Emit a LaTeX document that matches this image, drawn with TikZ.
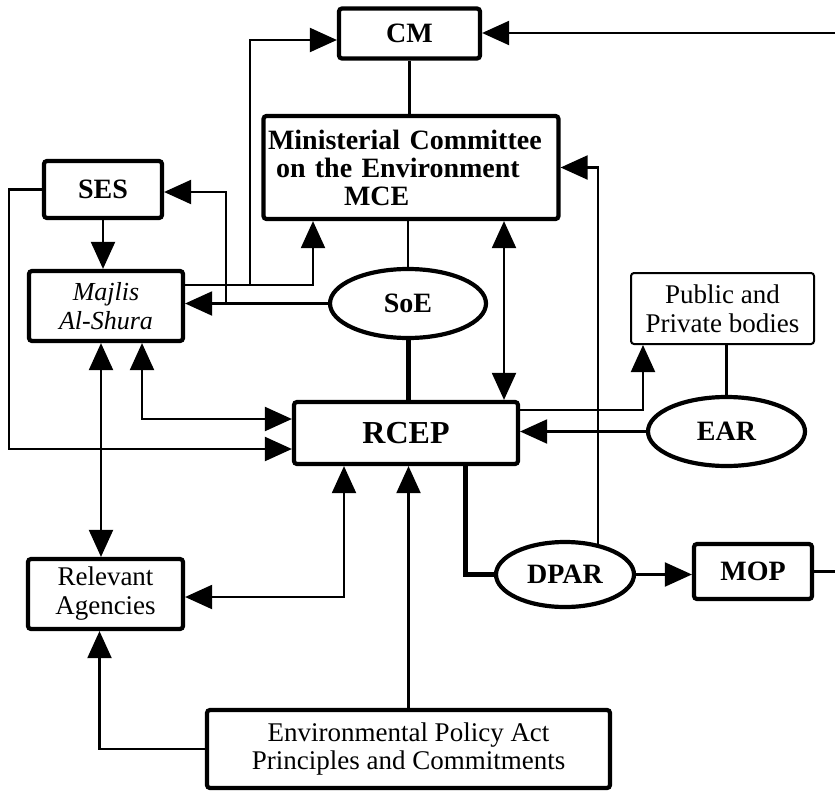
\documentclass[tikz,border=0pt]{standalone}
\usepackage{fontspec}
\setmainfont{Liberation Serif}
\usetikzlibrary{arrows.meta,calc,shapes.geometric}
\pgfdeclarelayer{bg}
\pgfsetlayers{bg,main}
\tikzset{
  boxnode/.style={draw, line width=4.2pt, rounded corners=3pt, fill=white, inner sep=2pt, align=center},
  thinbox/.style={draw, line width=2pt, rounded corners=3pt, fill=white, inner sep=2pt, align=center},
  bfont/.style={font=\fontsize{28}{30}\selectfont\bfseries},
  rfont/.style={font=\fontsize{27}{29}\selectfont},
  ellnode/.style={draw, ellipse, line width=4.2pt, fill=white, inner sep=0pt, font=\fontsize{28}{30}\selectfont\bfseries},
  conn/.style={line width=2.1pt},
  thickconn/.style={line width=5pt},
  midconn/.style={line width=2.6pt},
  arr/.style={conn, -{Triangle[length=27pt,width=24pt]}},
  dbl/.style={conn, {Triangle[length=27pt,width=24pt]}-{Triangle[length=27pt,width=24pt]}},
}
\begin{document}
\begin{tikzpicture}[x=1pt,y=-1pt]
\useasboundingbox (0,0) rectangle (835,800);

\node[boxnode,bfont,minimum width=141pt,minimum height=50pt] (CM) at (409.5,33.5) {CM};
\node[boxnode,minimum width=295pt,minimum height=103pt,text width=286pt,inner xsep=4.5pt,align=left,
      font=\fontsize{28}{28}\selectfont\bfseries] (MCE) at (411,167.5)
      {Ministerial Committee\\\hspace*{8pt}on the Environment\\\hspace*{76pt}MCE};
\node[boxnode,bfont,minimum width=118pt,minimum height=57pt] (SES) at (103,189.5) {SES};
\node[boxnode,minimum width=154pt,minimum height=70pt,font=\fontsize{26}{29}\selectfont\itshape] (Majlis) at (106,306) {Majlis\\Al-Shura};
\node[ellnode,minimum width=156pt,minimum height=69pt] (SoE) at (408,303.5) {SoE};
\node[boxnode,minimum width=224pt,minimum height=62pt,font=\fontsize{32}{34}\selectfont\bfseries] (RCEP) at (406,433) {RCEP};
\node[thinbox,rfont,minimum width=183pt,minimum height=71pt] (PPB) at (722.5,308.5) {Public and\\Private bodies};
\node[ellnode,minimum width=157pt,minimum height=69pt] (EAR) at (726.5,431.5) {EAR};
\node[ellnode,minimum width=138pt,minimum height=65pt] (DPAR) at (565,574.5) {DPAR};
\node[boxnode,bfont,minimum width=118pt,minimum height=55pt] (MOP) at (753,571.5) {MOP};
\node[boxnode,rfont,minimum width=155pt,minimum height=70pt] (RA) at (105.5,594) {Relevant\\Agencies};
\node[boxnode,minimum width=403pt,minimum height=78pt,font=\fontsize{27}{28}\selectfont] (EPA) at (408.5,749) {Environmental Policy Act\\Principles and Commitments};

\begin{pgfonlayer}{bg}
\fill[white] (0,0) rectangle (835,800);
\coordinate (eR1) at (835,33);
\coordinate (eR2) at (835,572);
\draw[arr] (eR1) -- (eR1 -| CM.east);
\draw[midconn] (CM.south) -- (CM.south |- MCE.north);
\draw[midconn] (MCE.south -| SoE.center) -- (SoE.center);
\draw[thickconn] (SoE.center) -- (SoE.center |- RCEP.north);
\draw[arr] (SES.south) -- (SES.south |- Majlis.north);
\draw[arr] (SES.west) -- ++(-33,0) |- ($(RCEP.west)+(0,16)$);
\draw[dbl] ($(Majlis.south)+(36,0)$) |- ($(RCEP.west)+(0,-14)$);
\draw[dbl] ($(Majlis.south)+(-5,0)$) -- ($(RA.north)+(-4.5,0)$);
\draw[dbl] ($(RCEP.south)+(-62,0)$) |- ($(RA.east)+(0,3)$);
\draw[arr] (EPA.north) -- (EPA.north |- RCEP.south);
\draw[arr] (EPA.west) -| ($(RA.south)+(-6,0)$);
\coordinate (mj) at ($(Majlis.east)+(0,-21)$);
\draw[arr] (mj) -- ++(65,0) |- ($(CM.west)+(0,6.5)$);
\draw[arr] (mj) -| ($(MCE.south)+(-98,0)$);
\draw[arr] (SoE.center) -- (SoE.center -| Majlis.east);
\draw[arr] ($(SoE.west)+(-102,0)$) |- ($(SES.east)+(0,2.5)$);
\draw[dbl] ($(MCE.south)+(93,0)$) -- ($(RCEP.north)+(98,0)$);
\draw[arr] ($(DPAR.center)+(33,0)$) |- (MCE.east);
\draw[arr] ($(RCEP.east)+(0,-23)$) -| ($(PPB.south)+(-79.5,0)$);
\draw[midconn] (PPB.south -| EAR.center) -- (EAR.center);
\draw[arr] (EAR.center) -- (EAR.center -| RCEP.east);
\draw[thickconn] ($(RCEP.south)+(59,0)$) |- (DPAR.center);
\draw[arr] (DPAR.center) -- (DPAR.center -| MOP.west);
\draw[conn] (MOP.center) -- (eR2 |- MOP.center);
\end{pgfonlayer}
\end{tikzpicture}
\end{document}
